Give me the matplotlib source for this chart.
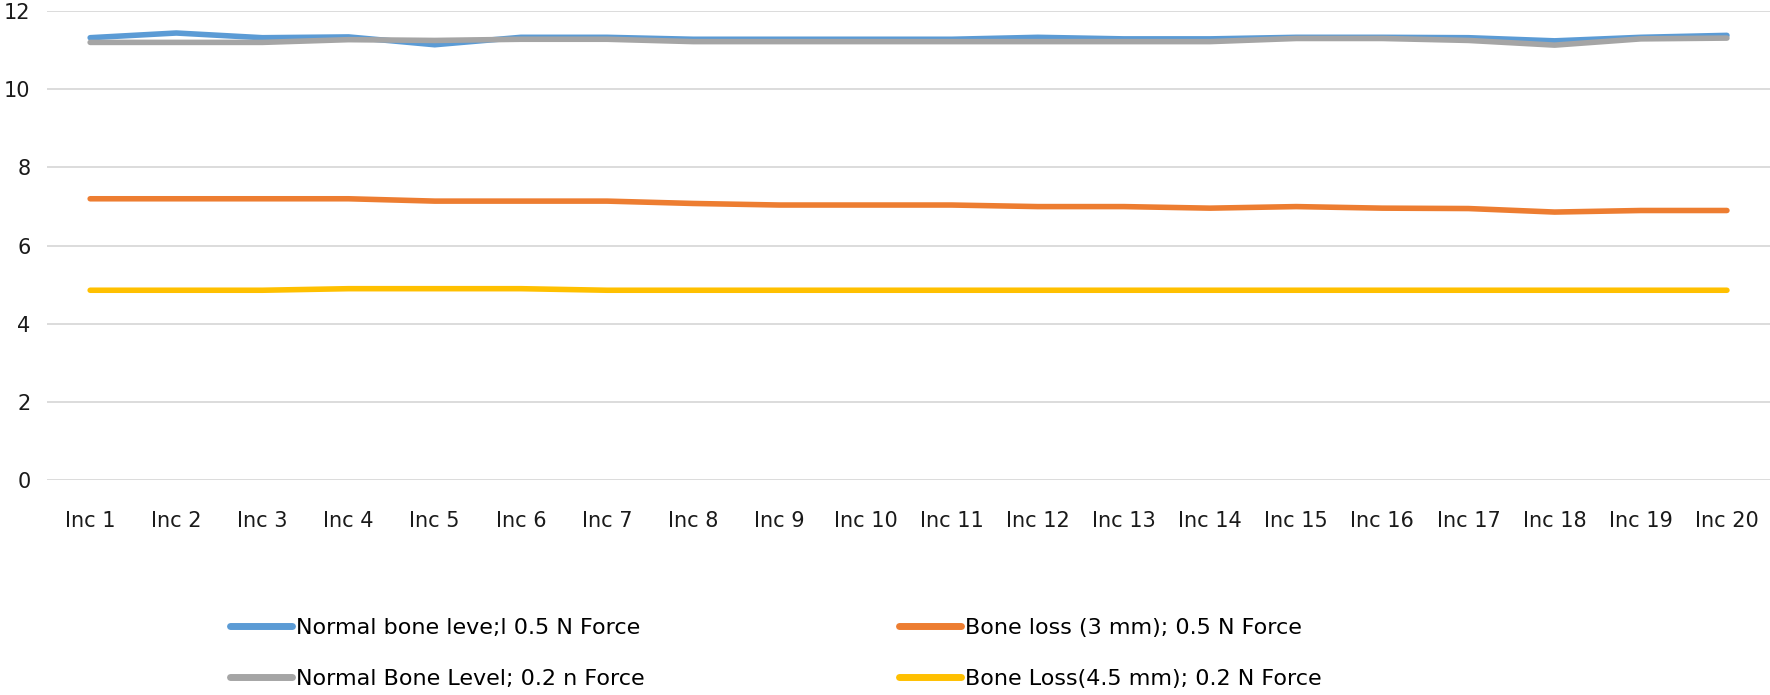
import matplotlib
matplotlib.use("Agg")
import matplotlib.pyplot as plt
from matplotlib.lines import Line2D

plt.rcParams['font.family'] = ['DejaVu Sans']

categories = [f"Inc {i}" for i in range(1, 21)]

normal_05 = [11.32, 11.44, 11.32, 11.34, 11.14, 11.33, 11.33, 11.28, 11.28, 11.28,
             11.28, 11.33, 11.29, 11.29, 11.33, 11.33, 11.32, 11.24, 11.33, 11.38]
loss3_05 = [7.2, 7.2, 7.2, 7.2, 7.14, 7.14, 7.14, 7.08, 7.04, 7.04,
            7.04, 7.0, 7.0, 6.96, 7.0, 6.96, 6.95, 6.86, 6.9, 6.9]
normal_02 = [11.2, 11.2, 11.2, 11.27, 11.25, 11.28, 11.28, 11.22, 11.22, 11.22,
             11.22, 11.22, 11.22, 11.22, 11.3, 11.3, 11.25, 11.13, 11.29, 11.31]
loss45_02 = [4.86, 4.86, 4.86, 4.9, 4.9, 4.9, 4.86, 4.86, 4.86, 4.86,
             4.86, 4.86, 4.86, 4.86, 4.86, 4.86, 4.86, 4.86, 4.86, 4.86]

labels = ["Normal bone leve;l 0.5 N Force", "Bone loss (3 mm); 0.5 N Force",
          "Normal Bone Level; 0.2 n Force", "Bone Loss(4.5 mm); 0.2 N Force"]
colors = ["#5B9BD5", "#ED7D31", "#A5A5A5", "#FFC000"]
series = [normal_05, loss3_05, normal_02, loss45_02]

fig = plt.figure(figsize=(17.7, 6.95), dpi=100)
ax = fig.add_axes([0.0266, 0.309, 0.9734, 0.675])

x = list(range(len(categories)))
for vals, c, lab in zip(series, colors, labels):
    ax.plot(x, vals, color=c, lw=4.0, solid_capstyle='round', solid_joinstyle='round', label=lab)

ax.set_xlim(-0.5, len(categories) - 0.5)
ax.set_ylim(0, 12)
ax.set_yticks(range(0, 13, 2))
ax.set_xticks(x)
ax.set_xticklabels(categories)
ax.grid(axis='y', color='#d9d9d9', lw=1.3)
ax.set_axisbelow(True)
for s in ax.spines.values():
    s.set_visible(False)
ax.tick_params(axis='both', length=0, labelsize=15, colors='#1a1a1a')
ax.tick_params(axis='x', pad=22)
ax.tick_params(axis='y', pad=12)

def handle(c):
    return Line2D([0], [0], color=c, lw=5.0, solid_capstyle='round')

common = dict(frameon=False, fontsize=16, handlelength=2.8, handletextpad=0.15,
              labelspacing=1.38, loc='upper left', borderaxespad=0, borderpad=0)
fig.legend([handle(colors[0]), handle(colors[2])], [labels[0], labels[2]],
           bbox_to_anchor=(230 / 1770, 1 - 618 / 695), **common)
fig.legend([handle(colors[1]), handle(colors[3])], [labels[1], labels[3]],
           bbox_to_anchor=(899 / 1770, 1 - 618 / 695), **common)

fig.savefig("out.png", dpi=100)
